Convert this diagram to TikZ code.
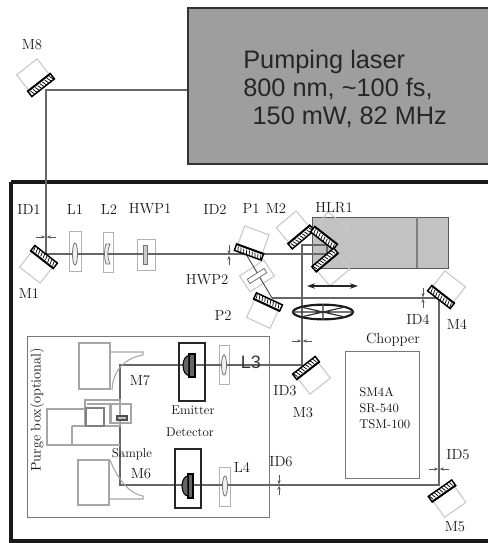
\documentclass[tikz,border=0pt]{standalone}
\usepackage{fontspec}
\usetikzlibrary{arrows.meta,shapes.geometric}
\newfontfamily\lasersans{Liberation Sans}
\definecolor{beam}{HTML}{666666}
\definecolor{lightb}{HTML}{C8C8C8}
\definecolor{boxg}{HTML}{777777}
\tikzset{
 x=0.75pt,y=-0.75pt,
 beamline/.style={draw=beam,line width=1pt},
 lightbox/.style={draw=lightb,line width=0.8pt},
 greybox/.style={draw=boxg,line width=1.1pt},
 lab/.style={font=\fontsize{11}{13}\selectfont,text=black!90,inner sep=0pt},
 smalllab/.style={font=\fontsize{9.5}{11}\selectfont,text=black!90,inner sep=0pt},
 iristip/.style={draw=black!65,line width=0.5pt,-{Stealth[length=3pt,width=2.5pt]}},
 optic/.style={draw=black!55,fill=black!6,line width=0.6pt},
}
% centre x, y, rotation, node name
\newcommand{\optmirror}[4]{%
 \begin{scope}[shift={(#1,#2)},rotate=#3]
  \draw[lightbox] (-13,-2) -- (-13,-23) -- (13,-23) -- (13,-2);
  \node[transform shape,draw=black,fill=white,line width=1.1pt,minimum width=21.5pt,minimum height=5.2pt,inner sep=0pt] (#4) at (0,0) {};
  \foreach \t in {-12,-9,...,12} \draw[black,line width=0.55pt] (\t,-1.5) -- (\t+1.5,3.6);
  \draw[black,line width=1.2pt] (-14,-3) -- (14,-3);
 \end{scope}}
% iris: x, y, h/v
\newcommand{\irish}[2]{%
 \coordinate (irl) at (#1-10,#2); \coordinate (irr) at (#1+10,#2);
 \coordinate (irm) at (#1,#2);
 \draw[iristip] (irl) -- ([xshift=-0.6pt]irm);
 \draw[iristip] (irr) -- ([xshift=0.6pt]irm);}
\newcommand{\irisv}[2]{%
 \coordinate (irt) at (#1,#2-10); \coordinate (irb) at (#1,#2+10);
 \coordinate (irm) at (#1,#2);
 \draw[iristip] (irt) -- ([yshift=0.6pt]irm);
 \draw[iristip] (irb) -- ([yshift=-0.6pt]irm);}
\begin{document}
\begin{tikzpicture}
\useasboundingbox (0,0) rectangle (488,543);
\fill[white] (0,0) rectangle (488,543);
% laser
\node[draw=black!80,fill=black!38,line width=1.4pt,minimum width=226pt,minimum height=117pt,inner sep=0pt,anchor=north west] (laser) at (187,7) {};
\node[anchor=west,inner sep=0pt,align=left,text=black!85,font=\lasersans\fontsize{19}{21}\selectfont] (lasertext) at (243,88.5) {Pumping laser\\800 nm, \char`\~100 fs,\\\hspace*{7pt}150 mW, 82 MHz};
% frame
\draw[black!90,line width=3pt] (10.5,182) -- (490,182);
\draw[black!90,line width=3pt] (10.5,182) -- (10.5,541) -- (490,541);
% HLR stage
\node[draw=black!65,fill=black!24,line width=1pt,minimum width=102pt,minimum height=38.25pt,inner sep=0pt,anchor=north west] (stage) at (312,217) {};
\draw[black!50,line width=1pt] (417,217) -- (417,268);
% purge box
\node[greybox,minimum width=181.5pt,minimum height=135.75pt,inner sep=0pt,anchor=north west] (purge) at (27,336) {};
% chopper box
\node[greybox,minimum width=55.5pt,minimum height=95.25pt,inner sep=0pt,anchor=north west] (chopbox) at (345,351) {};
% lens holders
\foreach \nm/\a/\b/\c/\d in {h1/69/231/81/271,h2/103/232/113/272,h3/137/239/155/270,hl3/219/345/229/384,hl4/219/467/230/506}
 \draw[draw=black!30,line width=0.7pt] (\a,\b) rectangle (\c,\d);
\node[draw=lightb,line width=0.8pt,minimum width=21.75pt,minimum height=14.25pt,inner sep=0pt,rotate=33] (hwpb) at (257,276) {};
% coordinates for the beam
\coordinate (pL) at (187,90);
\coordinate (b8) at (46,90);
\coordinate (b1) at (46,254);
\coordinate (bP1) at (246,254);
\coordinate (bH) at (327,254);
\coordinate (bH2) at (327,245);
\coordinate (b2) at (302,245);
\coordinate (b3) at (302,365);
\coordinate (bP2) at (272,298);
\coordinate (b4) at (439,298);
\coordinate (b5) at (439,485);
\coordinate (b6) at (120,485);
\coordinate (b7) at (120,365);
\draw[beamline] (pL) -- (b8) -- (b1) -- (bH) -- (bH2) -- (b2) -- (b3) -- (b7) -- (b6) -- (b5) -- (b4) -- (bP2);
\draw[draw=black!70,line width=0.7pt] (bP1) -- (bP2);
% mirrors
\optmirror{41}{85}{38}{M8m}
\optmirror{44}{257}{142}{M1m}
\optmirror{249}{252}{-20}{P1m}
\optmirror{301}{237}{40}{M2m}
\optmirror{324}{238}{-38}{H1m}
\optmirror{325}{260}{220}{H2m}
\optmirror{268}{302}{155}{P2m}
\optmirror{441}{297}{-38}{M4m}
\optmirror{442}{491}{215}{M5m}
\optmirror{306}{368}{218}{M3m}
% irises
\irish{46}{237}
\irisv{229}{255}
\irish{302}{341}
\irisv{423}{298}
\irish{439}{469}
\irisv{279}{485}
% optics in holders
\draw[optic] (75,254) ellipse (2.5 and 11);
\draw[optic] (106,244) .. controls (104,250) and (104,258) .. (106,264) -- (110,264) .. controls (107,258) and (107,250) .. (110,244) -- cycle;
\draw[optic,fill=black!20] (143,245) rectangle (147,264);
\draw[optic] (224,365) ellipse (2.5 and 10);
\draw[optic] (225,486) ellipse (2.5 and 10);
\begin{scope}[shift={(257,276)},rotate=33]
 \draw[optic,fill=white] (-10,-2.5) rectangle (10,2.5);
\end{scope}
% double arrow
\coordinate (dal) at (307,286); \coordinate (dar) at (358,286);
\draw[black!85,line width=1.1pt,{Stealth[length=6pt,width=4pt]}-{Stealth[length=6pt,width=4pt]}] (dal) -- (dar);
% chopper wheel
\node[draw=black!90,line width=1.6pt,ellipse,minimum width=45pt,minimum height=11pt,inner sep=0pt] (wheel) at (323,312) {};
\draw[black!80,line width=0.9pt] (293,312) -- (353,312) (323,304) -- (323,320) (301,307) -- (345,317) (301,317) -- (345,307);
% emitter, detector
\draw[black!85,line width=1pt] (179,343) rectangle (205,401);
\draw[black!85,line width=1pt] (175,449) rectangle (201,508);
\draw[black,fill=black!60,line width=0.8pt] (189,354) rectangle (195,377);
\draw[black,fill=black!60,line width=0.8pt] (189,355.5) arc[start angle=270,end angle=90,x radius=6,y radius=10] -- cycle;
\draw[black,fill=black!60,line width=0.8pt] (188,474) rectangle (193,498);
\draw[black,fill=black!60,line width=0.8pt] (188,476) arc[start angle=270,end angle=90,x radius=6,y radius=10] -- cycle;
% parabolic mirrors and sample stage
\draw[lightbox,draw=black!35] (79,343) rectangle (110,389);
\draw[lightbox,draw=black!35] (78,460) rectangle (109,505);
\draw[lightbox,draw=black!35] (110,352) -- (143,352) -- (143,355) .. controls (125,358) and (113,370) .. (112,390);
\draw[lightbox,draw=black!35] (110,460) .. controls (118,480) and (130,494) .. (143,496) -- (143,499) -- (109,499);
\draw[lightbox,draw=black!35] (85,409) -- (47,409) -- (47,445) -- (120,445);
\draw[lightbox,draw=black!35] (72,426) -- (72,445);
\draw[lightbox,draw=black!35] (72,426) -- (120,426);
\draw[lightbox,draw=black!35] (85,400) rectangle (120,426);
\draw[draw=black!50,line width=0.8pt] (86,408) rectangle (104,426);
\draw[lightbox,draw=black!35] (87,404) -- (110,404) -- (110,424);
\draw[lightbox,draw=black!35] (111,404) rectangle (131,423);
\draw[black!70,fill=black!25,line width=0.8pt] (117,416) rectangle (127,420);
% labels
\foreach \nm/\x/\y/\t in {lM8/32/45/M8,lID1/29/209/ID1,lL1/75/209/L1,lL2/109/209/L2,lHWP1/150/209/HWP1,lID2/215/209/ID2,lP1/251/208/P1,lM2/276/208/M2,lHLR/334/208/HLR1,lM1/29/293/M1,lHWP2/207/280/HWP2,lP2/223/315/P2,lID4/418/319/ID4,lM4/457/324/M4,lCh/393/340/Chopper,lID3/285/391/ID3,lM3/303/413/M3,lID6/281/462/ID6,lID5/458/455/ID5,lM5/455/527/M5,lM7/140/381/M7,lM6/141/474/M6,lL4/242/467/L4}
 \node[lab] (\nm) at (\x,\y) {\t};
\node[inner sep=0pt,text=black!80,font=\lasersans\fontsize{13.5}{15}\selectfont] (lL3) at (251,362) {L3};
\foreach \nm/\x/\y/\t in {lE/193/410/Emitter,lD/190/432/Detector,lS/132/454/Sample}
 \node[smalllab] (\nm) at (\x,\y) {\t};
\node[lab,rotate=90,font=\fontsize{10.5}{13}\selectfont] (lPurge) at (37,410) {Purge box(optional)};
\node[smalllab,anchor=north west,align=left,font=\fontsize{9.5}{12.2}\selectfont] (lSM) at (359,387) {SM4A\\SR\char`\-540\\TSM\char`\-100};
\end{tikzpicture}
\end{document}
